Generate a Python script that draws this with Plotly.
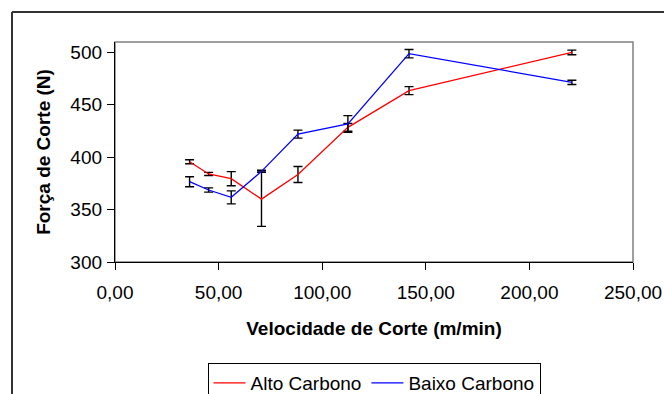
import plotly.graph_objects as go

# Data
velocidade = [36.0, 45.2, 56.1, 70.7, 88.3, 112.4, 141.9, 220.5]
alto_carbono = [395.7, 384.0, 379.5, 360.0, 383.5, 428.5, 463.5, 500.0]
alto_erro = [1.9, 1.5, 6.7, 26.0, 7.6, 3.7, 3.8, 2.2]
baixo_carbono = [376.6, 368.7, 361.7, 386.5, 422.0, 431.7, 498.8, 471.4]
baixo_erro = [4.8, 2.0, 6.2, 1.0, 3.8, 8.0, 4.0, 2.0]

x_tickvals = [0, 50, 100, 150, 200, 250]
x_ticktext = ["0,00", "50,00", "100,00", "150,00", "200,00", "250,00"]
y_tickvals = [300, 350, 400, 450, 500]

FONT = "Arial, Liberation Sans, sans-serif"

W, H = 664, 394
L, R, T, B = 115, 31, 42, 132
pw = W - L - R
ph = H - T - B

def px_x(p):
    return (p - L) / pw

def px_y(p):
    return (H - B - p) / ph

fig = go.Figure()
fig.add_trace(go.Scatter(
    x=velocidade, y=alto_carbono, mode="lines", name="Alto Carbono",
    line=dict(color="#FF0000", width=1.3),
    error_y=dict(type="data", array=alto_erro, visible=True,
                 color="#000000", thickness=1.4, width=4.5),
))
fig.add_trace(go.Scatter(
    x=velocidade, y=baixo_carbono, mode="lines", name="Baixo Carbono",
    line=dict(color="#0000FF", width=1.3),
    error_y=dict(type="data", array=baixo_erro, visible=True,
                 color="#000000", thickness=1.4, width=4.5),
))

fig.update_layout(
    width=W, height=H,
    margin=dict(l=L, r=R, t=T, b=B, autoexpand=False),
    paper_bgcolor="white", plot_bgcolor="white",
    font=dict(family=FONT, size=19, color="#000000"),
    showlegend=True,
    legend=dict(
        orientation="h", x=0.5, xanchor="center",
        y=px_y(363), yanchor="top",
        bordercolor="#000000", borderwidth=1,
        font=dict(family=FONT, size=19, color="#000000"),
        itemwidth=32, tracegroupgap=0,
    ),
    shapes=[
        dict(type="rect", xref="paper", yref="paper", x0=0, x1=1, y0=0, y1=1,
             line=dict(color="#808080", width=1.5), layer="below"),
        dict(type="line", xref="paper", yref="paper",
             x0=px_x(12), x1=px_x(12), y0=px_y(12), y1=px_y(400),
             line=dict(color="#333333", width=2)),
        dict(type="line", xref="paper", yref="paper",
             x0=px_x(12), x1=px_x(670), y0=px_y(12), y1=px_y(12),
             line=dict(color="#333333", width=2)),
    ],
)

fig.update_xaxes(
    range=[0, 250], tickvals=x_tickvals, ticktext=x_ticktext,
    showgrid=False, zeroline=False,
    showline=True, linecolor="#000000", linewidth=1.3,
    ticks="outside", ticklen=7, tickcolor="#000000", tickwidth=1.3,
    ticklabelstandoff=6,
    tickfont=dict(family=FONT, size=19, color="#000000"),
    title=dict(text="<b>Velocidade de Corte (m/min)</b>", standoff=19,
               font=dict(family=FONT, size=19, color="#000000")),
)
fig.update_yaxes(
    range=[300, 300 + ph / 1.048], tickvals=y_tickvals,
    showgrid=False, zeroline=False,
    showline=True, linecolor="#000000", linewidth=1.3,
    ticks="outside", ticklen=7, tickcolor="#000000", tickwidth=1.3,
    ticklabelstandoff=1,
    tickfont=dict(family=FONT, size=19, color="#000000"),
    title=dict(text="<b>Força de Corte (N)</b>", standoff=14,
               font=dict(family=FONT, size=19, color="#000000")),
)

fig.write_html(
    "out.html",
    config={"displayModeBar": False},
    post_script="document.body.style.margin='0';document.body.style.overflow='hidden';",
)
